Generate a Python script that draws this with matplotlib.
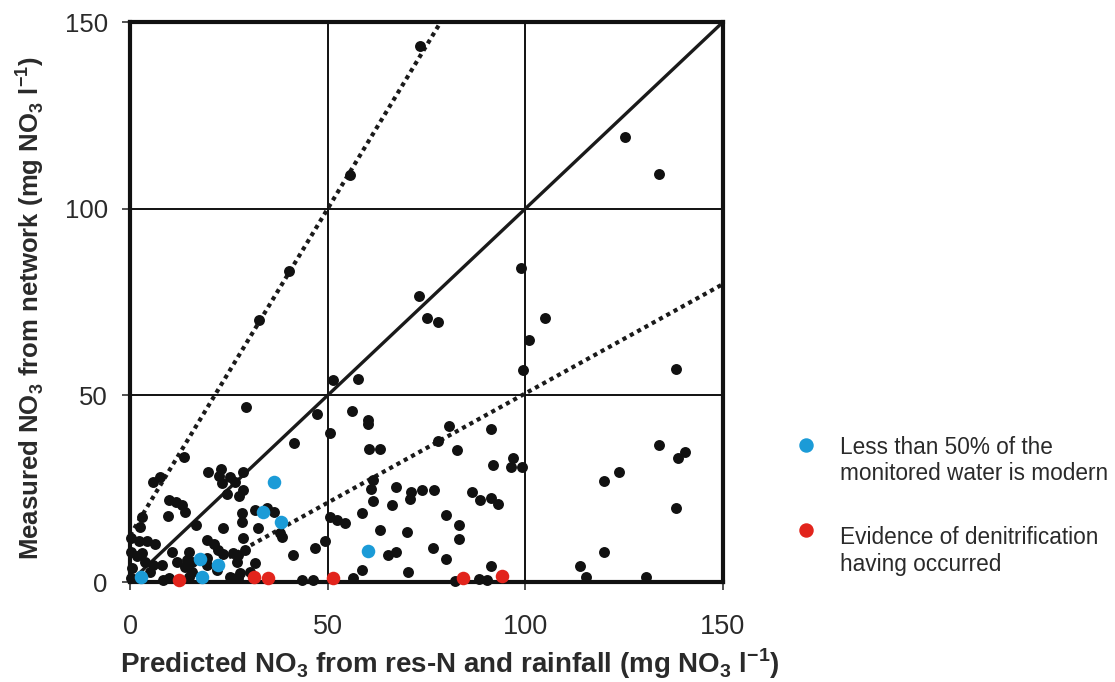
import matplotlib
matplotlib.use("Agg")
import matplotlib.pyplot as plt
from matplotlib.lines import Line2D

plt.rcParams['font.family'] = ['Liberation Sans', 'DejaVu Sans']
plt.rcParams['mathtext.fontset'] = 'custom'
plt.rcParams['mathtext.rm'] = 'Liberation Sans'
plt.rcParams['mathtext.bf'] = 'Liberation Sans:bold'

# ---- data ----
black_x = [73.4, 55.7, 40.3, 32.7, 73.2, 75.1, 78.0, 98.8, 99.3, 51.4, 57.6, 125.3, 133.9, 105.0, 100.9, 138.1,
           91.2, 91.7, 96.8, 96.3, 99.2, 88.5, 91.2, 93.2, 91.2, 88.3, 90.4, 133.8, 140.4, 138.5, 123.8, 120.0,
           138.0, 120.0, 113.8, 115.4, 130.5,
           47.2, 56.2, 60.1, 60.1, 50.6, 80.8, 78.0, 82.6, 60.5, 63.2, 61.5, 61.0, 61.5, 67.2, 71.1, 70.8, 73.8,
           77.0, 66.2, 86.4, 50.6, 52.4, 54.4, 58.6, 63.2, 70.0, 79.9, 83.2, 83.2, 76.6, 79.9, 65.3, 67.2, 46.8,
           49.2, 58.6, 70.4, 43.6, 46.4, 56.5, 82.2,
           29.3, 41.6, 13.7, 19.8, 23.0, 22.5, 25.3, 26.6, 28.5, 23.2, 24.5, 28.7, 27.6, 5.7, 7.7, 9.8, 11.6,
           13.2, 14.0, 9.6, 16.8, 2.6, 3.0, 23.6, 28.3, 28.3, 31.6, 34.6, 36.3, 32.5, 38.0, 38.4, 0.3, 2.2, 4.3,
           6.2, 0.3, 1.8, 3.0, 3.8, 5.9, 8.2, 10.6, 11.8, 14.8, 14.3, 14.0, 15.7, 15.6, 5.1, 0.5, 14.8, 0.3, 9.8,
           8.4, 19.6, 21.3, 22.3, 23.6, 19.4, 19.4, 21.9, 26.1, 27.4, 27.0, 28.7, 29.1, 31.6, 27.8, 30.4, 25.3,
           25.7, 27.4, 41.3]
black_y = [143.6, 109.0, 83.2, 70.1, 76.5, 70.8, 69.6, 84.1, 56.7, 54.0, 54.3, 119.3, 109.4, 70.8, 64.7, 57.0,
           40.9, 31.3, 33.3, 30.8, 30.8, 21.9, 22.6, 21.0, 4.3, 0.8, 0.5, 36.8, 34.8, 33.2, 29.5, 27.0,
           19.7, 8.0, 4.3, 1.4, 1.4,
           45.1, 45.8, 43.5, 42.4, 39.8, 41.7, 37.7, 35.3, 35.7, 35.7, 27.3, 24.8, 21.7, 25.5, 24.1, 22.1, 24.6,
           24.6, 20.6, 24.1, 17.5, 16.6, 15.7, 18.4, 13.9, 13.4, 17.9, 15.2, 11.5, 9.0, 6.1, 7.2, 8.1, 9.0,
           11.0, 3.2, 2.8, 0.5, 0.5, 1.0, 0.3,
           46.9, 37.3, 33.4, 29.5, 30.3, 28.4, 28.1, 26.8, 29.5, 26.4, 23.7, 24.6, 23.0, 26.8, 28.2, 22.0, 21.3,
           20.7, 18.8, 17.7, 15.4, 14.8, 17.5, 14.4, 18.6, 16.0, 19.4, 19.7, 18.8, 14.4, 13.0, 12.1, 11.7, 11.0, 11.0,
           10.3, 8.1, 7.0, 7.7, 5.4, 4.5, 4.5, 8.1, 5.4, 8.1, 5.9, 4.0, 5.4, 2.8, 2.8, 3.7, 1.4, 1.0, 1.0,
           0.5, 11.2, 10.3, 8.6, 7.5, 6.3, 4.5, 3.2, 7.7, 7.2, 5.4, 11.7, 8.6, 5.2, 2.3, 2.8, 1.4,
           1.0, 1.2, 7.2]

blue_x = [36.3, 33.7, 38.3, 17.8, 22.3, 18.3, 2.7, 60.3]
blue_y = [26.7, 18.7, 16.2, 6.2, 4.5, 1.4, 1.3, 8.3]

red_x = [12.4, 31.4, 35.0, 51.4, 84.3, 94.0]
red_y = [0.5, 1.4, 1.0, 1.2, 1.2, 1.7]

line_1to1_x = [0, 150]
line_1to1_y = [0, 150]
upper_x = [0, 78.6]
upper_y = [12.5, 150]
lower_x = [25.0, 150]
lower_y = [6.6, 79.8]

ticks = [0, 50, 100, 150]
legend_labels = ["Less than 50% of the\nmonitored water is modern",
                 "Evidence of denitrification\nhaving occurred"]
xlabel = r"Predicted NO$_\mathregular{3}$ from res-N and rainfall (mg NO$_\mathregular{3}$ l$^\mathregular{-1}$)"
ylabel = r"Measured NO$_\mathregular{3}$ from network (mg NO$_\mathregular{3}$ l$^\mathregular{-1}$)"

BLUE = "#1b9bd7"
RED = "#e2241c"
BLACK = "#111111"
TXT = "#2a2a2a"

W, H = 1115, 682
fig = plt.figure(figsize=(W / 100, H / 100), dpi=100)
ax = fig.add_axes([130 / W, 1 - 582 / H, 593 / W, 560 / H])

ax.set_xlim(0, 150)
ax.set_ylim(0, 150)
ax.set_xticks(ticks)
ax.set_yticks(ticks)
ax.grid(True, color="#111111", linewidth=1.4, zorder=1)
ax.set_axisbelow(True)

for s in ax.spines.values():
    s.set_linewidth(3.0)
    s.set_color("#111111")

ax.plot(line_1to1_x, line_1to1_y, color="#1a1a1a", linewidth=2.4, zorder=2, solid_capstyle='butt')
ax.plot(upper_x, upper_y, color="#1a1a1a", linewidth=3.0, linestyle=(0, (1, 1)), zorder=2)
ax.plot(lower_x, lower_y, color="#1a1a1a", linewidth=3.0, linestyle=(0, (1, 1)), zorder=2)

ax.scatter(black_x, black_y, s=62, color=BLACK, zorder=3, clip_on=False, linewidths=0)
ax.scatter(blue_x, blue_y, s=95, color=BLUE, zorder=4, clip_on=False, linewidths=0)
ax.scatter(red_x, red_y, s=95, color=RED, zorder=4, clip_on=False, linewidths=0)

ax.tick_params(axis='both', direction='out', length=6, width=1.2, color="#333333",
               labelcolor=TXT)
ax.tick_params(axis='x', pad=17, labelsize=19.5)
ax.tick_params(axis='y', pad=10, labelsize=18.5)

fig.text(450 / W, 1 - 664 / H, xlabel, fontsize=20, fontweight='bold', color=TXT,
         ha='center', va='center')
fig.text(30 / W, 1 - 308 / H, ylabel, fontsize=18.5, fontweight='bold', color=TXT,
         ha='center', va='center', rotation=90)

# legend (manual)
leg_items = [(BLUE, legend_labels[0], 445, 447), (RED, legend_labels[1], 530, 538)]
for col, lab, ydot, ytxt in leg_items:
    fig.add_artist(Line2D([806 / W], [1 - ydot / H], marker='o', markersize=9.4, color=col,
                          linestyle='None', transform=fig.transFigure))
    for i, line in enumerate(lab.split("\n")):
        fig.text(840 / W, 1 - (ytxt + 26.5 * i) / H, line, fontsize=16.3, color=TXT,
                 ha='left', va='center')

fig.savefig("out.png", dpi=100)
